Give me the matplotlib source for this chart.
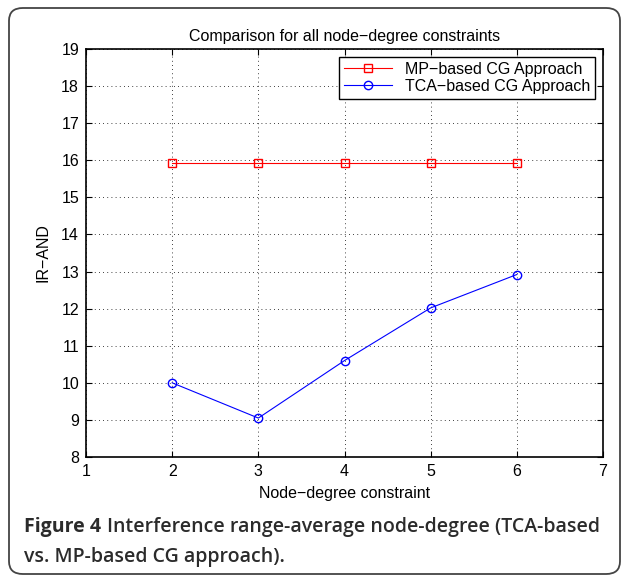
import matplotlib.pyplot as plt
from matplotlib.patches import FancyBboxPatch

# values
node_degree = [2, 3, 4, 5, 6]
mp_based = [15.92, 15.92, 15.92, 15.92, 15.92]
tca_based = [10.0, 9.05, 10.6, 12.02, 12.92]
x_ticks = [1, 2, 3, 4, 5, 6, 7]
y_ticks = list(range(8, 20))

plt.rcParams['font.family'] = ['Liberation Sans', 'DejaVu Sans']

fig = plt.figure(figsize=(6.27, 5.76), dpi=100)
W, H = 627, 576

# rounded frame around the whole figure
frame = FancyBboxPatch((9 / W, 2 / H), 611 / W, 566 / H,
                       boxstyle="round,pad=0,rounding_size=0.022",
                       transform=fig.transFigure, fill=False,
                       edgecolor="#444444", linewidth=1.3)
fig.patches.append(frame)

ax = fig.add_axes([86 / W, 1 - 457 / H, (603 - 86) / W, (457 - 49) / H])

ax.plot(node_degree, mp_based, color="red", marker="s", markersize=6,
        markerfacecolor="none", linewidth=0.8, label="MP\u2212based CG Approach")
ax.plot(node_degree, tca_based, color="blue", marker="o", markersize=6,
        markerfacecolor="none", linewidth=0.8, label="TCA\u2212based CG Approach")

ax.set_xlim(1, 7)
ax.set_ylim(8, 19)
ax.set_xticks(x_ticks)
ax.set_yticks(y_ticks)
ax.tick_params(direction="in", top=True, right=True, length=4, width=0.8,
               labelsize=11.5, pad=5)
ax.grid(True, linestyle=(0, (1, 4)), color="black", linewidth=0.6)
for s in ax.spines.values():
    s.set_linewidth(1.2)

ax.set_title("Comparison for all node\u2212degree constraints", fontsize=11.5, pad=6)
ax.set_xlabel("Node\u2212degree constraint", fontsize=11.5, labelpad=5)
ax.set_ylabel("IR\u2212AND", fontsize=11.5, labelpad=8)

leg = ax.legend(loc="upper right", bbox_to_anchor=(595 / W, 1 - 57 / H),
                bbox_transform=fig.transFigure, fontsize=11.5, fancybox=False,
                framealpha=1, edgecolor="black", borderpad=0.3,
                handlelength=3.0, labelspacing=0.12, borderaxespad=0)
leg.get_frame().set_linewidth(1.0)

# caption: bold label followed by semibold text, fitted to the frame width
cap_color = "#2b2b2b"
cap_size = 15
y1, y2 = 1 - 527 / H, 1 - 557 / H
lab = fig.text(24 / W, y1, "Figure 4", fontsize=cap_size, fontweight="bold",
               family="Open Sans", color=cap_color, va="center", ha="left")
body = fig.text(0, y1, "Interference range-average node-degree (TCA-based",
                fontsize=cap_size, fontweight="semibold", family="Open Sans",
                color=cap_color, va="center", ha="left")
line2 = fig.text(24 / W, y2, "vs. MP-based CG approach).", fontsize=cap_size,
                 fontweight="semibold", family="Open Sans", color=cap_color,
                 va="center", ha="left")

renderer = fig.canvas.get_renderer()
w_lab = lab.get_window_extent(renderer).width
w_body = body.get_window_extent(renderer).width
gap = 6
scale = (596 - 24) / (w_lab + gap + w_body)
for t in (lab, body, line2):
    t.set_fontsize(cap_size * scale)
w_lab = lab.get_window_extent(renderer).width
body.set_x((24 + w_lab + gap * scale) / W)

fig.savefig("out.png", dpi=100)
